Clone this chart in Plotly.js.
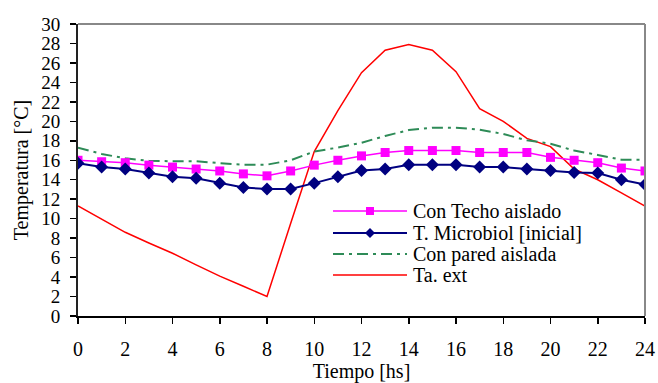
<!DOCTYPE html>
<html><head><meta charset="utf-8">
<script src="https://cdn.plot.ly/plotly-3.0.1.min.js"></script>
<style>html,body{margin:0;padding:0;background:#fff}#chart{width:658px;height:383px}</style>
</head><body><div id="chart"></div>
<script>
const hours = [0,1,2,3,4,5,6,7,8,9,10,11,12,13,14,15,16,17,18,19,20,21,22,23,24];
const conTecho = [16.0,15.85,15.75,15.5,15.3,15.1,14.9,14.6,14.4,14.9,15.5,16.0,16.45,16.8,17.0,17.0,17.0,16.8,16.8,16.8,16.3,16.0,15.75,15.2,14.9];
const microbiol = [15.7,15.3,15.1,14.7,14.3,14.15,13.65,13.2,13.05,13.05,13.65,14.3,14.95,15.1,15.55,15.55,15.55,15.3,15.3,15.1,14.95,14.75,14.7,14.0,13.5];
const conPared = [17.3,16.65,16.2,15.95,15.9,15.9,15.7,15.55,15.55,16.0,16.9,17.3,17.8,18.5,19.1,19.35,19.35,19.15,18.7,18.05,17.7,17.0,16.55,16.05,16.05];
const taExt = [11.3,9.95,8.6,7.5,6.45,5.25,4.1,3.05,2.0,9.5,16.9,21.1,25.0,27.3,27.9,27.3,25.1,21.3,20.0,18.25,17.4,15.1,14.0,12.65,11.3];
const seriesNames = ["Con Techo aislado","T. Microbiol [inicial]","Con pared aislada","Ta. ext"];
const xTicks = [0,2,4,6,8,10,12,14,16,18,20,22,24];
const yTicks = [0,2,4,6,8,10,12,14,16,18,20,22,24,26,28,30];

const FONT = "'Liberation Serif','Times New Roman',serif";
const styles = [
  {color:"#FF00FF", width:1.5, dash:"solid", symbol:"square", msize:9},
  {color:"#000080", width:2, dash:"solid", symbol:"diamond", msize:10},
  {color:"#2E8B57", width:2, dash:"11px,5px,3px,5px", symbol:null},
  {color:"#FF0000", width:1.5, dash:"solid", symbol:null}
];
const ys = [conTecho, microbiol, conPared, taExt];

const traces = ys.map((y,i)=>{
  const s = styles[i];
  const t = {x:hours, y:y, name:seriesNames[i], type:"scatter",
    mode: s.symbol ? "lines+markers" : "lines",
    line:{color:s.color, width:s.width, dash:s.dash}, showlegend:false};
  if (s.symbol) t.marker = {symbol:s.symbol, size:s.msize, color:s.color};
  return t;
});
const order = [3,2,0,1];
const data = order.map(i=>traces[i]);

// manual legend (line samples + text) in paper coordinates
const L = 78, PW = 567, T = 24, PH = 292;
const px = v => (v - L)/PW;
const py = v => (T + PH - v)/PH;
const rowY = [211, 233, 254, 275];
const shapes = [
  {type:"line", xref:"paper", yref:"paper", x0:0, x1:1, y0:1, y1:1, line:{color:"#888", width:2}},
  {type:"line", xref:"paper", yref:"paper", x0:1, x1:1, y0:0, y1:1, line:{color:"#888", width:2}}
];
const annotations = [];
seriesNames.forEach((n,i)=>{
  const s = styles[i];
  shapes.push({type:"line", xref:"paper", yref:"paper", x0:px(333), x1:px(407), y0:py(rowY[i]), y1:py(rowY[i]),
    line:{color:s.color, width:s.width, dash:s.dash}});
  if (s.symbol === "square") {
    shapes.push({type:"rect", xref:"paper", yref:"paper", x0:px(366), x1:px(374), y0:py(rowY[i]+4), y1:py(rowY[i]-4),
      fillcolor:s.color, line:{width:0}});
  } else if (s.symbol === "diamond") {
    shapes.push({type:"path", xref:"paper", yref:"paper",
      path:`M ${px(370)} ${py(rowY[i]-5)} L ${px(375)} ${py(rowY[i])} L ${px(370)} ${py(rowY[i]+5)} L ${px(365)} ${py(rowY[i])} Z`,
      fillcolor:s.color, line:{width:0}});
  }
  annotations.push({xref:"paper", yref:"paper", x:px(411), y:py(rowY[i]), xanchor:"left", yanchor:"middle",
    text:n, showarrow:false, font:{family:FONT, size:20, color:"#000"}});
});

const layout = {
  width:658, height:383,
  margin:{l:L, r:658-L-PW, t:T, b:383-T-PH},
  paper_bgcolor:"#fff", plot_bgcolor:"#fff",
  showlegend:false,
  font:{family:FONT, size:20, color:"#000"},
  xaxis:{range:[0,24], tickvals:xTicks, ticktext:xTicks.map(String), ticks:"outside", ticklen:6, tickwidth:1.5, tickcolor:"#000",
    showline:true, linecolor:"#000", linewidth:2, showgrid:false, zeroline:false, fixedrange:true,
    ticklabelstandoff:8, tickfont:{family:FONT, size:20},
    title:{text:"Tiempo [hs]", font:{family:FONT, size:20}, standoff:6}},
  yaxis:{range:[0,30], tickvals:yTicks, ticktext:yTicks.map(String), ticks:"outside", ticklen:6, tickwidth:1.5, tickcolor:"#000",
    showline:true, linecolor:"#222", linewidth:2, showgrid:false, zeroline:false, fixedrange:true,
    ticklabelstandoff:6, tickfont:{family:FONT, size:19},
    title:{text:"Temperatura [°C]", font:{family:FONT, size:20}, standoff:7}},
  shapes:shapes, annotations:annotations
};
Plotly.newPlot("chart", data, layout, {displayModeBar:false, staticPlot:true});
</script></body></html>
